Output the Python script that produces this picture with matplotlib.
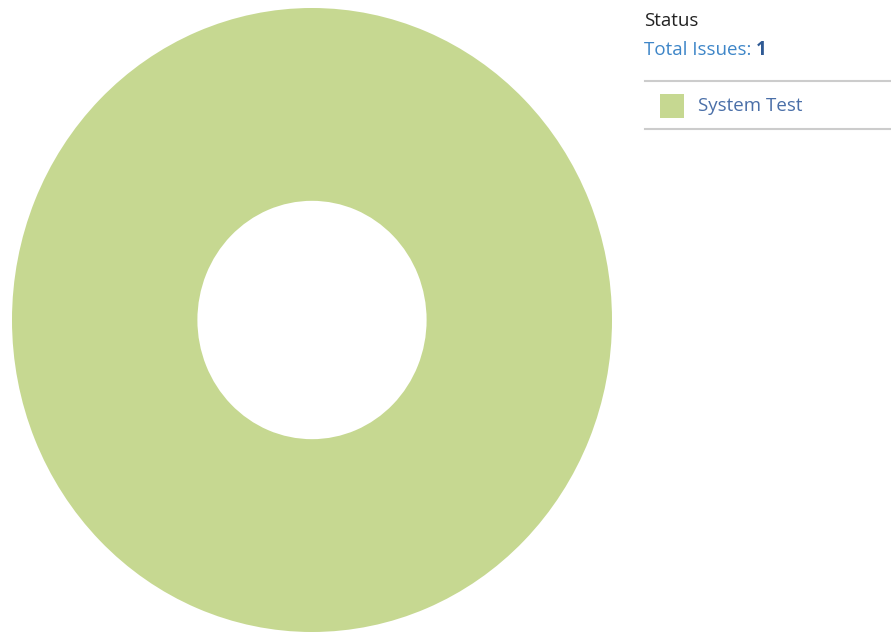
import matplotlib.pyplot as plt

# issue counts per status
statuses = ['System Test']
counts = [1]
colors = ['#c6d891']

title = 'Status'
total_label = 'Total Issues: '

plt.rcParams['font.family'] = ['Open Sans', 'DejaVu Sans']

W, H = 891, 633
fig = plt.figure(figsize=(W / 100, H / 100), dpi=100)


def px_axes(x0, y0, x1, y1):
    # axes placed by pixel box (top-left origin)
    return fig.add_axes([x0 / W, 1 - y1 / H, (x1 - x0) / W, (y1 - y0) / H])


# donut (slightly taller than wide)
pax = px_axes(12, 8, 612, 632)
pax.pie(counts, colors=colors, radius=1, startangle=90, counterclock=False,
        wedgeprops=dict(width=0.618, linewidth=0))
pax.set_aspect('auto')
pax.set_xlim(-1, 1)
pax.set_ylim(-1, 1)
pax.axis('off')

# legend panel in pixel coordinates
ax = fig.add_axes([0, 0, 1, 1], zorder=-1)
ax.set_xlim(0, W)
ax.set_ylim(H, 0)
ax.axis('off')

fs = 13.5
ax.text(644, 21, title, fontsize=fs, color='#222222', va='center', ha='left')
t = ax.text(644, 50, total_label, fontsize=fs, color='#3e86c8', va='center', ha='left')
fig.canvas.draw()
bb = t.get_window_extent()
x_end = ax.transData.inverted().transform((bb.x1, 0))[0]
ax.text(x_end, 50, str(sum(counts)), fontsize=fs, color='#2f5a94',
        fontweight='bold', va='center', ha='left')

ax.plot([645, 891], [81, 81], color='#cccccc', lw=1.5)
ax.plot([645, 891], [129, 129], color='#cccccc', lw=1.5)
for i, (name, c) in enumerate(zip(statuses, colors)):
    y = 106 + i * 48
    ax.add_patch(plt.Rectangle((660, y - 12), 24, 24, color=c, lw=0))
    ax.text(698, y, name, fontsize=fs, color='#4a6fa8', va='center', ha='left')

fig.savefig('out.png', dpi=100)
